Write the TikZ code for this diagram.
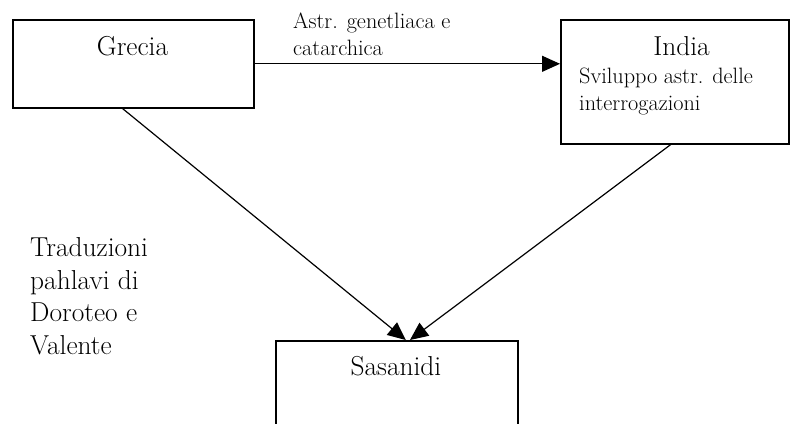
\documentclass[tikz,border=0pt]{standalone}
\usepackage{fontspec}
\usetikzlibrary{arrows.meta,calc}

\tikzset{
  box/.style={draw, line width=1.6bp, rectangle, inner sep=0pt, anchor=north west},
  bigtext/.style={inner sep=0pt, font=\fontsize{27.5}{32.5}\selectfont},
  smalltext/.style={inner sep=0pt, font=\fontsize{22.3}{26.6}\selectfont},
  link/.style={line width=1.2bp, -{Triangle[length=18bp, width=16bp]}}
}

\begin{document}
\begin{tikzpicture}[x=1bp, y=-1bp]
  \useasboundingbox (0,0) rectangle (790,423);
  \clip (0,0) rectangle (790,423);

  % boxes
  \node[box, minimum width=241bp, minimum height=88bp] (grecia) at (12,19) {};
  \node[box, minimum width=228bp, minimum height=124bp] (india) at (560,19) {};
  \node[box, minimum width=242bp, minimum height=130bp] (sasanidi) at (275,340) {};

  % box titles
  \node[bigtext, anchor=base] (tgrecia) at (132.5,55) {Grecia};
  \node[bigtext, anchor=base] (tindia) at (681.5,55) {India};
  \node[bigtext, anchor=base] (tsasanidi) at (396,375) {Sasanidi};

  % contents of the India box (anchored on the last baseline)
  \node[smalltext, anchor=base west, align=left] (svil) at (579,110)
    {Sviluppo astr. delle\\interrogazioni};

  % edge label
  \node[smalltext, anchor=base west, align=left] (astr) at (293,55)
    {Astr. genetliaca e\\catarchica};

  % side note
  \node[bigtext, anchor=base west, align=left] (trad) at (30,354)
    {Traduzioni\\pahlavi di\\Doroteo e\\Valente};

  % connectors
  \draw[link] (grecia.east) -- (grecia.east -| india.west);
  \draw[link] ($(grecia.south west)!0.456!(grecia.south east)$)
           -- ($(sasanidi.north west)!0.537!(sasanidi.north east)$);
  \draw[link] ($(india.south west)!0.482!(india.south east)$)
           -- ($(sasanidi.north west)!0.554!(sasanidi.north east)$);
\end{tikzpicture}
\end{document}
